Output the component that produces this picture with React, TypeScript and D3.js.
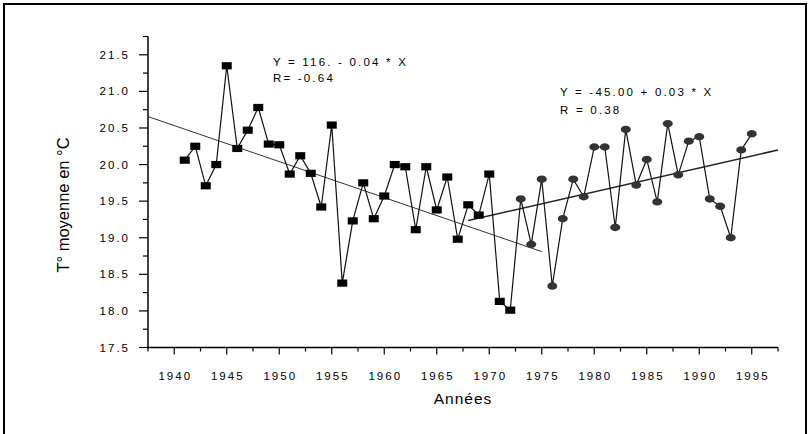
import React from "react";
import * as d3 from "d3";

const yearsA = [1941,1942,1943,1944,1945,1946,1947,1948,1949,1950,1951,1952,1953,1954,1955,1956,1957,1958,1959,1960,1961,1962,1963,1964,1965,1966,1967,1968,1969,1970,1971,1972];
const tempA = [20.06,20.25,19.71,20.0,21.35,20.22,20.47,20.78,20.28,20.27,19.87,20.12,19.88,19.42,20.54,18.38,19.23,19.75,19.26,19.57,20.0,19.97,19.11,19.97,19.38,19.83,18.98,19.45,19.31,19.87,18.13,18.01];
const yearsB = [1973,1974,1975,1976,1977,1978,1979,1980,1981,1982,1983,1984,1985,1986,1987,1988,1989,1990,1991,1992,1993,1994,1995];
const tempB = [19.53,18.91,19.8,18.34,19.26,19.8,19.56,20.24,20.24,19.14,20.48,19.72,20.07,19.49,20.56,19.86,20.32,20.38,19.53,19.43,19.0,20.2,20.42];
const xTicks = [1940,1945,1950,1955,1960,1965,1970,1975,1980,1985,1990,1995];
const xMinor = [1937.5,1942.5,1947.5,1952.5,1957.5,1962.5,1967.5,1972.5,1977.5,1982.5,1987.5,1992.5,1997.5];
const yTicks = [17.5,18.0,18.5,19.0,19.5,20.0,20.5,21.0,21.5];
const yMinor = [17.75,18.25,18.75,19.25,19.75,20.25,20.75,21.25,21.75];
const fitA = { a: 116, b: -0.04921, from: 1937.5, to: 1975 };
const fitB = { a: -45, b: 0.03264, from: 1968, to: 1997.5 };
const labelA = ["Y = 116. - 0.04 * X", "R= -0.64"];
const labelB = ["Y = -45.00 + 0.03 * X", "R = 0.38"];

const FONT = "Arial, 'Liberation Sans', sans-serif";

export default function App() {
  const x = d3.scaleLinear().domain([1937.5, 1997.5]).range([148, 778]);
  const y = d3.scaleLinear().domain([17.5, 21.75]).range([347.5, 36.5]);
  const line = d3.line<[number, number]>().x(d => x(d[0])).y(d => y(d[1]));
  const ptsA: [number, number][] = yearsA.map((yr, i) => [yr, tempA[i]]);
  const ptsB: [number, number][] = yearsB.map((yr, i) => [yr, tempB[i]]);
  const allPts = ptsA.concat(ptsB);
  const fitLine = (f: typeof fitA): [number, number][] => [
    [f.from, f.a + f.b * f.from],
    [f.to, f.a + f.b * f.to],
  ];
  const x0 = x.range()[0];
  const y0 = y.range()[0];
  return (
    <svg width={810} height={434} style={{ position: "absolute", left: 0, top: 0, background: "#fff" }} fontFamily={FONT}>
      <rect x={4} y={4} width={802} height={445} fill="none" stroke="#000" strokeWidth={2} />
      <path d={line(fitLine(fitA)) || ""} fill="none" stroke="#333" strokeWidth={1} />
      <path d={line(fitLine(fitB)) || ""} fill="none" stroke="#222" strokeWidth={1.6} />
      <path d={line(allPts) || ""} fill="none" stroke="#111" strokeWidth={1.2} />
      {ptsA.map((p, i) => (
        <rect key={"a" + i} x={x(p[0]) - 5} y={y(p[1]) - 3.6} width={10} height={7.2} fill="#000" />
      ))}
      {ptsB.map((p, i) => (
        <ellipse key={"b" + i} cx={x(p[0])} cy={y(p[1])} rx={5} ry={3.7} fill="#333" />
      ))}
      <line x1={x0} x2={x0} y1={y.range()[1]} y2={y0 + 0.75} stroke="#000" strokeWidth={1.5} />
      <line x1={x0 - 0.75} x2={x.range()[1]} y1={y0} y2={y0} stroke="#000" strokeWidth={1.5} />
      {yTicks.map(t => (
        <g key={"yt" + t}>
          <line x1={x0 - 9} x2={x0} y1={y(t)} y2={y(t)} stroke="#000" strokeWidth={1.2} />
          <text x={130} y={y(t) + 4} textAnchor="end" fontSize={11.5} letterSpacing={2}>{t.toFixed(1)}</text>
        </g>
      ))}
      {yMinor.map(t => (
        <line key={"ym" + t} x1={x0 - 5} x2={x0} y1={y(t)} y2={y(t)} stroke="#000" strokeWidth={1.2} />
      ))}
      {xTicks.map(t => (
        <g key={"xt" + t}>
          <line x1={x(t)} x2={x(t)} y1={y0} y2={y0 + 7} stroke="#000" strokeWidth={1.2} />
          <text x={x(t) + 1} y={379.5} textAnchor="middle" fontSize={11.5} letterSpacing={2}>{t}</text>
        </g>
      ))}
      {xMinor.map(t => (
        <line key={"xm" + t} x1={x(t)} x2={x(t)} y1={y0} y2={y0 + 4} stroke="#000" strokeWidth={1.2} />
      ))}
      <text x={(x.range()[0] + x.range()[1]) / 2} y={404} textAnchor="middle" fontSize={15.5} letterSpacing={1}>Années</text>
      <text transform="translate(63,205) rotate(-90)" textAnchor="middle" dy="0.35em" fontSize={16.5}>T° moyenne en °C</text>
      {labelA.map((s, i) => (
        <text key={"la" + i} x={273} y={65.5 + i * 16.5} fontSize={11.5} letterSpacing={2.2}>{s}</text>
      ))}
      {labelB.map((s, i) => (
        <text key={"lb" + i} x={560} y={95.5 + i * 18} fontSize={11.5} letterSpacing={2.2}>{s}</text>
      ))}
    </svg>
  );
}
